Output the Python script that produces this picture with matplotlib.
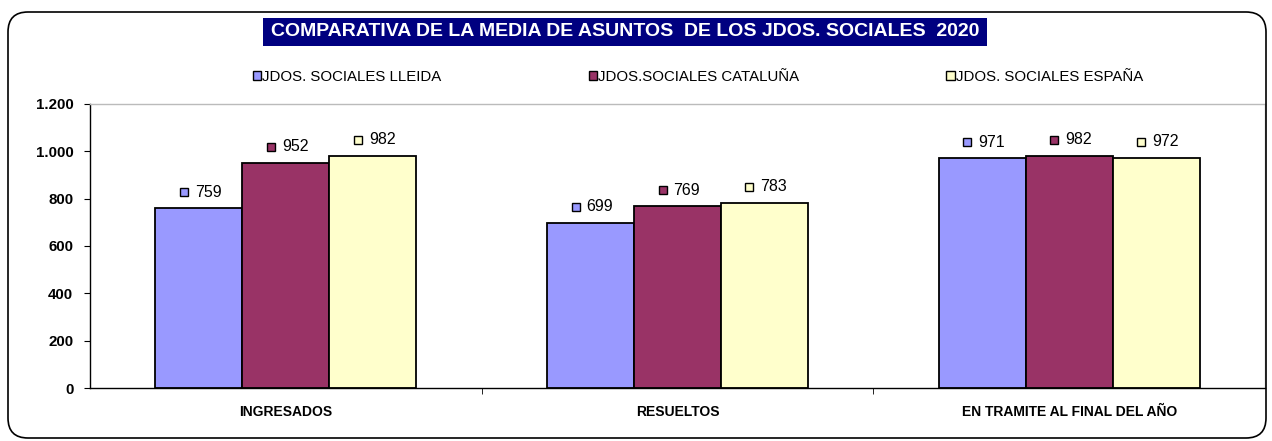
import matplotlib
matplotlib.use('Agg')
from matplotlib import pyplot as plt
from matplotlib.patches import Patch, FancyBboxPatch, Rectangle
from matplotlib.transforms import offset_copy
import numpy as np

categories = ['INGRESADOS', 'RESUELTOS', 'EN TRAMITE AL FINAL DEL AÑO']
series_names = ['JDOS. SOCIALES LLEIDA', 'JDOS.SOCIALES CATALUÑA', 'JDOS. SOCIALES ESPAÑA']
lleida = [759, 699, 971]
cataluna = [952, 769, 982]
espana = [982, 783, 972]
colors = ['#9999FF', '#993366', '#FFFFCC']
title = 'COMPARATIVA DE LA MEDIA DE ASUNTOS  DE LOS JDOS. SOCIALES  2020'
yticks = [0, 200, 400, 600, 800, 1000, 1200]
ytick_labels = ['0', '200', '400', '600', '800', '1.000', '1.200']

plt.rcParams['font.family'] = ['Liberation Sans', 'DejaVu Sans']

fig = plt.figure(figsize=(12.72, 4.41), dpi=100)
ax = fig.add_axes([90/1272, 53/441, 1175/1272, 284/441])

# rounded outer frame
frame = FancyBboxPatch((0.08, 0.03), 12.58, 4.26, boxstyle='round,pad=0,rounding_size=0.2',
                       transform=fig.dpi_scale_trans, facecolor='none', edgecolor='black',
                       linewidth=1.2, zorder=0)
fig.patches.append(frame)

# title box
fig.patches.append(Rectangle((263/1272, 1-46/441), 724/1272, 28/441, transform=fig.transFigure,
                             facecolor='#000080', edgecolor='none'))
fig.text(625/1272, 1-32/441, title, color='white', fontsize=14, fontweight='bold',
         ha='center', va='center')

x = np.arange(len(categories))
w = 0.222
all_series = [lleida, cataluna, espana]
for i, vals in enumerate(all_series):
    xs = x + (i - 1) * w
    ax.bar(xs, vals, width=w, color=colors[i], edgecolor='black', linewidth=1.3, zorder=2)
    for xi, v in zip(xs, vals):
        mtr = offset_copy(ax.transData, fig=fig, x=-15, y=16, units='dots')
        ax.plot([xi], [v], marker='s', markersize=6, markerfacecolor=colors[i],
                markeredgecolor='black', markeredgewidth=1.0, transform=mtr, clip_on=False)
        ttr = offset_copy(ax.transData, fig=fig, x=-4, y=16, units='dots')
        ax.text(xi, v, str(v), transform=ttr, fontsize=11.5, ha='left', va='center')

ax.set_xlim(-0.5, 2.5)
ax.set_ylim(0, 1200)
ax.set_yticks(yticks)
ax.set_yticklabels(ytick_labels, fontsize=10.8, fontweight='bold')
ax.set_xticks(x)
ax.set_xticklabels(categories, fontsize=10, fontweight='bold')
ax.tick_params(axis='x', length=0, pad=12)
ax.set_xticks([0.5, 1.5], minor=True)
ax.tick_params(axis='x', which='minor', length=4, direction='out')
ax.tick_params(axis='y', length=4, direction='out', pad=8)

for s in ['top', 'right']:
    ax.spines[s].set_color('#BBBBBB')
    ax.spines[s].set_linewidth(1.0)
for s in ['left', 'bottom']:
    ax.spines[s].set_color('black')
    ax.spines[s].set_linewidth(1.0)

handles = [Patch(facecolor=c, edgecolor='black', linewidth=1.0) for c in colors]
fig.legend(handles, series_names, loc='center', bbox_to_anchor=(698/1272, 1-77/441), ncol=3,
           frameon=False, fontsize=10.8, handlelength=0.55, handleheight=0.55,
           handletextpad=0.1, columnspacing=9.8)

fig.savefig('out.png', dpi=100)
